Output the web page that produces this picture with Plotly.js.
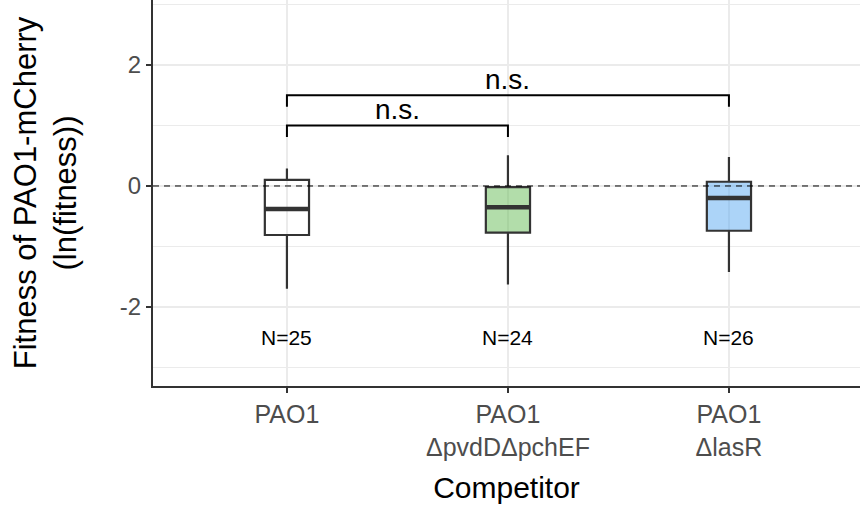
<!DOCTYPE html>
<html>
<head>
<meta charset="utf-8">
<script src="https://cdn.plot.ly/plotly-3.0.1.min.js"></script>
<style>
  html, body { margin: 0; padding: 0; background: #ffffff; }
  #chart { width: 860px; height: 515px; }
</style>
</head>
<body>
<div id="chart"></div>
<script>
// Competitor strains (x positions 0, 1, 2)
const competitors = ["PAO1", "PAO1<br>ΔpvdDΔpchEF", "PAO1<br>ΔlasR"];
const positions = [0, 1, 2];

// Box-plot summaries of ln(fitness)
const lowerWhisker = [-1.70, -1.63, -1.42];
const q1Values     = [-0.81, -0.77, -0.74];
const medians      = [-0.38, -0.35, -0.20];
const q3Values     = [0.10, -0.02, 0.07];
const upperWhisker = [0.29, 0.51, 0.48];

// Sample sizes
const sampleSizes = [25, 24, 26];

// Box fills
const boxFills = ["rgba(255,255,255,0)", "rgba(102,187,85,0.5)", "rgba(89,169,241,0.5)"];

// Pairwise comparisons: [from, to, bracket height, label]
const compFrom   = [0, 0];
const compTo     = [1, 2];
const compHeight = [1.0, 1.5];
const compLabel  = ["n.s.", "n.s."];
const tipLength  = 0.19;

const FONT = "Liberation Sans, Arial, Helvetica, sans-serif";
const boxHalf = 0.1;

const traces = [];

// Boxes
positions.forEach((p, i) => {
  traces.push({
    type: "box",
    x: [p],
    q1: [q1Values[i]],
    median: [medians[i]],
    q3: [q3Values[i]],
    lowerfence: [lowerWhisker[i]],
    upperfence: [upperWhisker[i]],
    width: boxHalf * 2,
    whiskerwidth: 0,
    fillcolor: boxFills[i],
    line: { color: "#333333", width: 2.2 },
    boxpoints: false,
    hoverinfo: "skip",
    showlegend: false
  });
});

// Thicker median bars
positions.forEach((p, i) => {
  traces.push({
    type: "scatter",
    mode: "lines",
    x: [p - boxHalf, p + boxHalf],
    y: [medians[i], medians[i]],
    line: { color: "#333333", width: 4.5 },
    hoverinfo: "skip",
    showlegend: false
  });
});

// Significance brackets
compFrom.forEach((a, i) => {
  const b = compTo[i];
  const h = compHeight[i];
  traces.push({
    type: "scatter",
    mode: "lines",
    x: [a, a, b, b],
    y: [h - tipLength, h, h, h - tipLength],
    line: { color: "#000000", width: 2 },
    hoverinfo: "skip",
    showlegend: false
  });
});

const annotations = [];
compFrom.forEach((a, i) => {
  annotations.push({
    x: (a + compTo[i]) / 2,
    y: compHeight[i],
    xref: "x", yref: "y",
    text: compLabel[i],
    showarrow: false,
    yanchor: "bottom",
    yshift: -2,
    font: { family: FONT, size: 28, color: "#000000" }
  });
});
positions.forEach((p, i) => {
  annotations.push({
    x: p,
    y: -2.5,
    xref: "x", yref: "y",
    text: "N=" + sampleSizes[i],
    showarrow: false,
    font: { family: FONT, size: 21, color: "#000000" }
  });
});

const layout = {
  width: 860,
  height: 515,
  margin: { l: 153, r: 0, t: 0, b: 129 },
  paper_bgcolor: "#ffffff",
  plot_bgcolor: "#ffffff",
  font: { family: FONT },
  showlegend: false,
  xaxis: {
    range: [-0.606, 2.593],
    tickvals: positions,
    ticktext: competitors,
    showgrid: true,
    gridcolor: "#ebebeb",
    gridwidth: 1.5,
    zeroline: false,
    showline: true,
    linecolor: "#333333",
    linewidth: 2,
    ticks: "outside",
    ticklen: 5,
    tickwidth: 1.5,
    tickcolor: "#333333",
    tickfont: { family: FONT, size: 25, color: "#4d4d4d" },
    title: {
      text: "Competitor",
      font: { family: FONT, size: 30, color: "#000000" },
      standoff: 17
    },
    fixedrange: true
  },
  yaxis: {
    range: [-3.306, 3.074],
    tickvals: [-2, 0, 2],
    ticktext: ["-2", "0", "2"],
    showgrid: true,
    gridcolor: "#ebebeb",
    gridwidth: 1.5,
    minor: { tickvals: [-3, -1, 1, 3], showgrid: true, gridcolor: "#ebebeb", gridwidth: 1, ticks: "" },
    zeroline: false,
    showline: true,
    linecolor: "#333333",
    linewidth: 2,
    ticks: "outside",
    ticklen: 5,
    tickwidth: 1.5,
    tickcolor: "#333333",
    tickfont: { family: FONT, size: 24, color: "#4d4d4d" },
    title: {
      text: "Fitness of PAO1-mCherry<br>(ln(fitness))",
      font: { family: FONT, size: 31, color: "#000000" },
      standoff: 34
    },
    fixedrange: true
  },
  shapes: [{
    type: "line",
    xref: "paper", yref: "y",
    x0: 0, x1: 1, y0: 0, y1: 0,
    line: { color: "#000000", width: 1, dash: "6px,5px" },
    layer: "above"
  }],
  annotations: annotations
};

Plotly.newPlot("chart", traces, layout, { displayModeBar: false, staticPlot: true });
</script>
</body>
</html>
